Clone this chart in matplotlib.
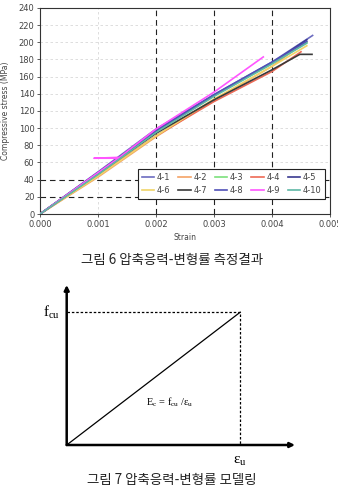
import matplotlib
matplotlib.use("Agg")
import matplotlib.pyplot as plt

# measured stress-strain curves (strain, MPa)
labels = ["4-1", "4-2", "4-3", "4-4", "4-5", "4-6", "4-7", "4-8", "4-9", "4-10"]
colors = ["#6c6cc0", "#f5a366", "#7be07b", "#ee6a55", "#3a3a90",
          "#f0d468", "#3a3a3a", "#5050b8", "#ff55ff", "#5fb8a6"]
strain = {
    "4-1": [0, 0.001, 0.002, 0.003, 0.004, 0.0047],
    "4-2": [0, 0.001, 0.002, 0.003, 0.004, 0.0045],
    "4-3": [0, 0.001, 0.002, 0.003, 0.004, 0.0046],
    "4-4": [0, 0.001, 0.002, 0.003, 0.004, 0.0045],
    "4-5": [0, 0.001, 0.002, 0.003, 0.004, 0.0046],
    "4-6": [0, 0.001, 0.002, 0.003, 0.004, 0.0046],
    "4-7": [0, 0.001, 0.002, 0.003, 0.004, 0.00448, 0.00469],
    "4-8": [0, 0.001, 0.002, 0.003, 0.004, 0.0046],
    "4-9": [0, 0.00135, 0.00093, 0.00137, 0.002, 0.003, 0.00385],
    "4-10": [0, 0.001, 0.002, 0.003, 0.004, 0.0046],
}
stress = {
    "4-1": [0, 49, 99, 139, 177, 208],
    "4-2": [0, 43, 90, 133, 172, 197],
    "4-3": [0, 47, 96, 138, 175, 200],
    "4-4": [0, 45, 91, 131, 166, 189],
    "4-5": [0, 48, 97, 138, 176, 203],
    "4-6": [0, 44, 91, 134, 172, 196],
    "4-7": [0, 47, 94, 133, 168, 186, 186],
    "4-8": [0, 48, 97, 139, 177, 201],
    "4-9": [0, 65, 65, 66, 99, 142, 183],
    "4-10": [0, 46, 95, 137, 175, 199],
}
xticks = [0.0, 0.001, 0.002, 0.003, 0.004, 0.005]
yticks = list(range(0, 241, 20))

# simplified model: linear up to (eps_u, f_cu)
eps_u = 0.76
f_cu = 0.83

KR = ["Noto Sans CJK KR", "DejaVu Sans"]
W, H = 338, 486
fig = plt.figure(figsize=(W / 100, H / 100), dpi=100)

def box(l, t, r, b):
    return [l / W, 1 - b / H, (r - l) / W, (b - t) / H]

ax = fig.add_axes(box(40, 8, 330, 214))
ax.set_xlim(0, 0.005)
ax.set_ylim(0, 240)
ax.set_xticks(xticks)
ax.set_xticklabels([f"{v:.3f}" for v in xticks])
ax.set_yticks(yticks)
ax.tick_params(labelsize=6, colors="#444444", length=2, width=0.6, pad=2)
ax.grid(True, color="#d8d8d8", linestyle=(0, (3, 3)), linewidth=0.6, zorder=0)
for x in [0.002, 0.003, 0.004]:
    ax.axvline(x, color="#222222", linestyle=(0, (5, 3.5)), gapcolor="white",
               linewidth=0.8, zorder=2)
for y in [20, 40]:
    ax.axhline(y, color="#222222", linestyle=(0, (5, 3.5)), gapcolor="white",
               linewidth=0.8, zorder=2)
for s in ax.spines.values():
    s.set_color("#333333")
    s.set_linewidth(0.8)

handles = {}
for lbl, c in zip(labels, colors):
    h, = ax.plot(strain[lbl], stress[lbl], color=c, linewidth=1.2, label=lbl, zorder=3)
    handles[lbl] = h
ax.set_xlabel("Strain", fontsize=5.5, color="#444444", labelpad=3)
ax.set_ylabel("Compressive stress (MPa)", fontsize=5.5, color="#444444", labelpad=6)

# legend in two rows of five
order = []
for i in range(5):
    order += [labels[i], labels[i + 5]]
leg = ax.legend([handles[k] for k in order], order, ncol=5, fontsize=6,
                bbox_to_anchor=(0.338, 0.073, 0.645, 0.165), mode="expand",
                loc="lower left", handlelength=1.5, handletextpad=0.3,
                columnspacing=0.5, borderaxespad=0, fancybox=False,
                framealpha=1, edgecolor="#222222", borderpad=0.45, labelspacing=0.55)
leg.get_frame().set_linewidth(0.8)
leg.set_zorder(5)
for t in leg.get_texts():
    t.set_color("#444444")

fig.text(172 / W, 1 - 260 / H, "그림 6 압축응력-변형률 측정결과", family=KR,
         fontsize=9.7, ha="center", va="center", color="#222222")

# modelling diagram
ax2 = fig.add_axes(box(66.7, 285, 295, 445))
ax2.set_xlim(0, 1)
ax2.set_ylim(0, 1)
ax2.axis("off")
arr = dict(arrowstyle="-|>", color="black", lw=1.8, mutation_scale=7, shrinkA=0, shrinkB=0)
ax2.annotate("", xy=(1, 0), xytext=(0, 0), arrowprops=arr, annotation_clip=False)
ax2.annotate("", xy=(0, 1), xytext=(0, 0), arrowprops=arr, annotation_clip=False)
ax2.plot([0, eps_u], [0, f_cu], color="black", linewidth=0.9)
ax2.plot([0, eps_u, eps_u], [f_cu, f_cu, 0], color="black", linewidth=0.9,
         linestyle=(0, (2, 1.5)))
ax2.text(-0.03, f_cu, r"f$_{\mathregular{cu}}$", family="Liberation Serif",
         fontsize=11, ha="right", va="center")
ax2.text(eps_u, -0.06, r"ε$_{\mathregular{u}}$", family="Liberation Serif",
         fontsize=11, ha="center", va="top")
ax2.text(0.45, 0.27, r"E$_{\mathregular{c}}$ = f$_{\mathregular{cu}}$ /ε$_{\mathregular{u}}$",
         family="Liberation Serif", fontsize=7.5, ha="center", va="center")

fig.text(172 / W, 1 - 480 / H, "그림 7 압축응력-변형률 모델링", family=KR,
         fontsize=9.7, ha="center", va="center", color="#222222")

fig.savefig("out.png", dpi=100)
